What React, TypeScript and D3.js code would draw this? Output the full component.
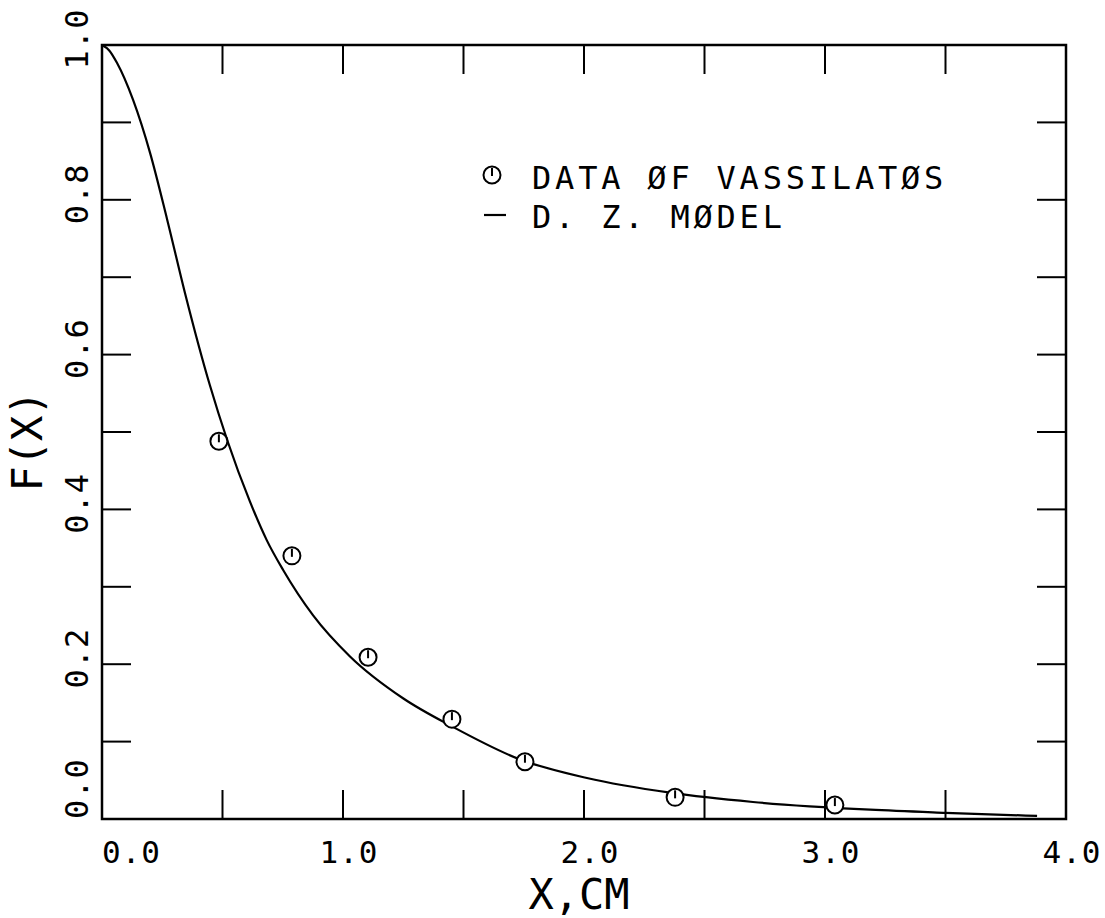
import React from "react";
import * as d3 from "d3";

const xTicks = [0, 0.5, 1, 1.5, 2, 2.5, 3, 3.5, 4];
const yTicks = [0, 0.1, 0.2, 0.3, 0.4, 0.5, 0.6, 0.7, 0.8, 0.9, 1.0];
const xLabelValues = [0, 1, 2, 3, 4];
const yLabelValues = [0, 0.2, 0.4, 0.6, 0.8, 1.0];

// Data of Vassilatos (circles)
const dataX = [0.485, 0.788, 1.104, 1.452, 1.755, 2.378, 3.041];
const dataY = [0.488, 0.34, 0.209, 0.129, 0.074, 0.028, 0.018];

// D. Z. model curve
const modelX = [0, 0.03, 0.062, 0.129, 0.2, 0.27, 0.344, 0.448, 0.519, 0.614, 0.684, 0.751, 0.876, 1.029, 1.249, 1.456, 1.734, 2.012, 2.357, 2.701, 3.187, 3.5, 3.88];
const modelY = [1.0, 0.993, 0.977, 0.929, 0.86, 0.775, 0.68, 0.56, 0.49, 0.41, 0.36, 0.322, 0.263, 0.21, 0.156, 0.119, 0.077, 0.053, 0.034, 0.022, 0.012, 0.008, 0.004];

const FONT = "'DejaVu Sans Mono', 'Liberation Mono', monospace";

export default function App() {
  const W = 1105, H = 918;
  const left = 102, right = 1066, top = 45, bottom = 819;
  const x = d3.scaleLinear().domain([0, 4]).range([left, right]);
  const y = d3.scaleLinear().domain([0, 1]).range([bottom, top]);
  const tickLen = 29;

  const line = d3.line<number>()
    .x((_, i) => x(modelX[i]))
    .y((_, i) => y(modelY[i]))
    .curve(d3.curveMonotoneX);
  const pathD = line(modelX) || "";

  const fmt = d3.format(".1f");

  const marker = (cx: number, cy: number, key: string) => (
    <g key={key}>
      <circle cx={cx} cy={cy} r={8.5} fill="white" stroke="black" strokeWidth={2} />
      <line x1={cx} y1={cy + 1} x2={cx} y2={cy - 7} stroke="black" strokeWidth={2} />
    </g>
  );

  return (
    <div style={{ position: "absolute", left: 0, top: 0 }}>
      <svg width={W} height={H} style={{ display: "block", background: "white" }}>
        <rect x={0} y={0} width={W} height={H} fill="white" />
        {/* frame */}
        <rect x={left} y={top} width={right - left} height={bottom - top} fill="none" stroke="black" strokeWidth={2.5} />
        {/* x ticks bottom & top */}
        {xTicks.map((t) => (
          <g key={"xt" + t}>
            <line x1={x(t)} x2={x(t)} y1={bottom} y2={bottom - tickLen} stroke="black" strokeWidth={2} />
            <line x1={x(t)} x2={x(t)} y1={top} y2={top + tickLen} stroke="black" strokeWidth={2} />
          </g>
        ))}
        {/* y ticks left & right */}
        {yTicks.map((t) => (
          <g key={"yt" + t}>
            <line x1={left} x2={left + tickLen} y1={y(t)} y2={y(t)} stroke="black" strokeWidth={2} />
            <line x1={right} x2={right - tickLen} y1={y(t)} y2={y(t)} stroke="black" strokeWidth={2} />
          </g>
        ))}
        {/* x tick labels */}
        {xLabelValues.map((v) => (
          <text
            key={"xl" + v}
            x={v === 0 ? left : x(v) + 6}
            y={863}
            textAnchor={v === 0 ? "start" : "middle"}
            fontFamily={FONT}
            fontSize={31}
            letterSpacing={1}
            fill="black"
          >
            {fmt(v)}
          </text>
        ))}
        {/* y tick labels */}
        {yLabelValues.map((v) => {
          const py = v === 0 ? bottom : y(v) - 6;
          return (
            <text
              key={"yl" + v}
              transform={`translate(88,${py}) rotate(-90)`}
              textAnchor={v === 0 ? "start" : "middle"}
              fontFamily={FONT}
              fontSize={32}
              letterSpacing={1}
              fill="black"
            >
              {fmt(v)}
            </text>
          );
        })}
        {/* axis titles */}
        <text x={579} y={909} textAnchor="middle" fontFamily={FONT} fontSize={42} fill="black">
          X,CM
        </text>
        <text transform={`translate(42,441) rotate(-90)`} textAnchor="middle" fontFamily={FONT} fontSize={42} fill="black">
          F(X)
        </text>
        {/* model curve */}
        <path d={pathD} fill="none" stroke="black" strokeWidth={2.2} />
        {/* data markers */}
        {dataX.map((dx, i) => marker(x(dx), y(dataY[i]), "m" + i))}
        {/* legend */}
        {marker(492, 175, "legm")}
        <text x={532} y={189} fontFamily={FONT} fontSize={32} letterSpacing={3.8} fill="black">
          DATA ØF VASSILATØS
        </text>
        <line x1={484} x2={506} y1={215} y2={215} stroke="black" strokeWidth={2.2} />
        <text x={532} y={228} fontFamily={FONT} fontSize={32} letterSpacing={3.8} fill="black">
          D. Z. MØDEL
        </text>
      </svg>
    </div>
  );
}
